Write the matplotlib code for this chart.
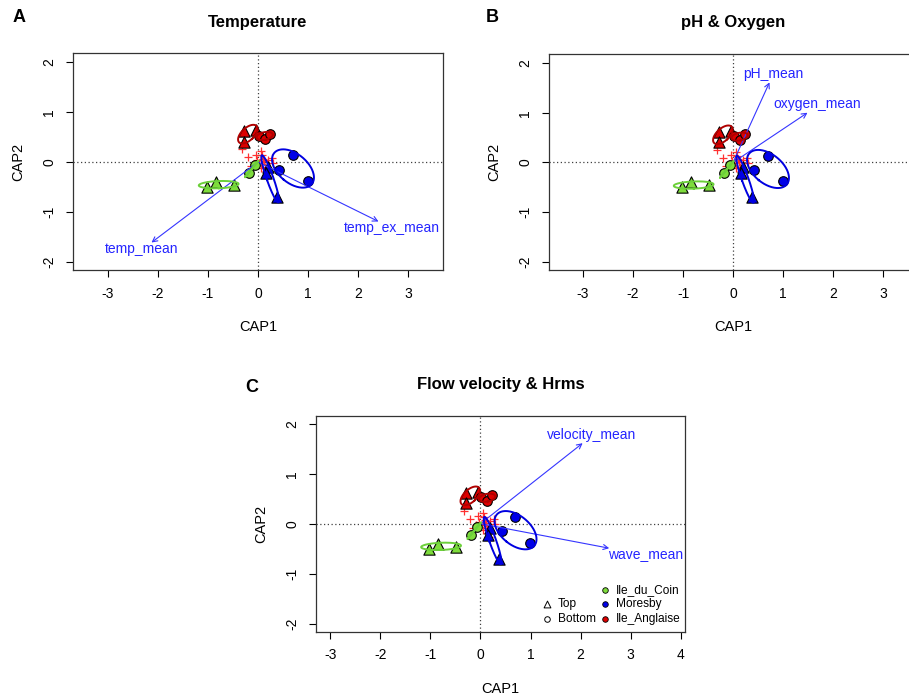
import numpy as np
import matplotlib
matplotlib.use("Agg")
import matplotlib.pyplot as plt

plt.rcParams['font.family'] = ['Liberation Sans', 'DejaVu Sans']
plt.rcParams['axes.unicode_minus'] = False

# ---------------- data ----------------
sites = ["Ile_du_Coin", "Moresby", "Ile_Anglaise"]
depths = ["Top", "Bottom"]

coin_top_x = [-1.02, -0.85, -0.49]
coin_top_y = [-0.50, -0.40, -0.46]
coin_bot_x = [-0.19, -0.06]
coin_bot_y = [-0.22, -0.06]
mor_top_x = [0.20, 0.15, 0.38]
mor_top_y = [-0.09, -0.22, -0.70]
mor_bot_x = [0.69, 0.42, 0.99]
mor_bot_y = [0.14, -0.15, -0.38]
ang_top_x = [-0.28, -0.05, -0.28]
ang_top_y = [0.62, 0.64, 0.41]
ang_bot_x = [0.02, 0.14, 0.24]
ang_bot_y = [0.53, 0.46, 0.57]

species_x = [-0.33, -0.21, -0.05, 0.05, 0.08, -0.03, 0.09, 0.28, 0.13, 0.29,
             0.17, -0.15, 0.02, 0.12, 0.20, 0.05, -0.08, 0.15]
species_y = [0.26, 0.10, 0.15, 0.22, 0.14, 0.04, 0.07, 0.09, -0.09, -0.01,
             -0.27, -0.08, -0.02, 0.02, 0.05, -0.12, -0.03, -0.18]

panel_titles = ["Temperature", "pH & Oxygen", "Flow velocity & Hrms"]
panel_letters = ["A", "B", "C"]

arrow_names = [["temp_mean", "temp_ex_mean"],
               ["pH_mean", "oxygen_mean"],
               ["velocity_mean", "wave_mean"]]
arrow_x = [[-2.13, 2.41], [0.73, 1.49], [2.04, 2.57]]
arrow_y = [[-1.61, -1.19], [1.61, 1.00], [1.61, -0.49]]
label_x = [[-2.33, 2.67], [0.80, 1.68], [2.21, 3.29]]
label_y = [[-1.75, -1.32], [1.78, 1.17], [1.77, -0.61]]

xlims = [(-3.7, 3.7), (-3.68, 3.7), (-3.29, 4.09)]
ylims = [(-2.16, 2.18), (-2.16, 2.18), (-2.16, 2.16)]
xticks = [[-3, -2, -1, 0, 1, 2, 3], [-3, -2, -1, 0, 1, 2, 3],
          [-3, -2, -1, 0, 1, 2, 3, 4]]
yticks = [-2, -1, 0, 1, 2]

# ---------------- styles ----------------
fill_col = {"Ile_du_Coin": "#7EDC3C", "Moresby": "#0000E8", "Ile_Anglaise": "#DD0000"}
ell_col = {"Ile_du_Coin": "#6CD03A", "Moresby": "#0000E0", "Ile_Anglaise": "#B00000"}
marker = {"Top": "^", "Bottom": "o"}
msize = {"Top": 66, "Bottom": 48}

groups = [
    ("Ile_du_Coin", "Top", coin_top_x, coin_top_y),
    ("Ile_du_Coin", "Bottom", coin_bot_x, coin_bot_y),
    ("Moresby", "Top", mor_top_x, mor_top_y),
    ("Moresby", "Bottom", mor_bot_x, mor_bot_y),
    ("Ile_Anglaise", "Top", ang_top_x, ang_top_y),
    ("Ile_Anglaise", "Bottom", ang_bot_x, ang_bot_y),
]

K = 1.47


def ellipse_xy(x, y, k=K, n=200):
    pts = np.column_stack([x, y])
    c = pts.mean(axis=0)
    cov = np.cov(pts.T, ddof=1)
    vals, vecs = np.linalg.eigh(cov)
    vals = np.clip(vals, 0, None)
    t = np.linspace(0, 2 * np.pi, n)
    circ = np.vstack([np.cos(t), np.sin(t)])
    e = vecs @ (np.sqrt(vals)[:, None] * circ) * k
    return c[0] + e[0], c[1] + e[1]


W, H = 909, 695
fig = plt.figure(figsize=(W / 100, H / 100), dpi=100)

# axes boxes in pixels: left, right, top, bottom
boxes = [(73, 443, 53, 270), (549, 918, 54, 270), (315.7, 685.3, 415.7, 631.7)]

for i in range(3):
    l, r, t, b = boxes[i]
    ax = fig.add_axes([l / W, (H - b) / H, (r - l) / W, (b - t) / H])
    ax.set_xlim(*xlims[i])
    ax.set_ylim(*ylims[i])
    ax.set_xticks(xticks[i])
    ax.set_yticks(yticks)
    ax.tick_params(direction='out', length=5, width=0.8, labelsize=10, pad=7)
    for lab in ax.get_yticklabels():
        lab.set_rotation(90)
        lab.set_va('center')
    for s in ax.spines.values():
        s.set_linewidth(0.9)
        s.set_color('#333333')
    ax.set_xlabel("CAP1", fontsize=10.5, labelpad=14)
    ax.set_ylabel("CAP2", fontsize=10.5, labelpad=12)

    ax.axhline(0, color='0.25', linestyle=(0, (1, 2)), lw=0.9, zorder=1)
    ax.axvline(0, color='0.25', linestyle=(0, (1, 2)), lw=0.9, zorder=1)

    # species scores
    ax.scatter(species_x, species_y, marker='+', s=28, color='#FF3030',
               linewidths=0.9, zorder=2)

    # sites
    for site, depth, gx, gy in groups:
        ax.scatter(gx, gy, marker=marker[depth], s=msize[depth],
                   facecolor=fill_col[site], edgecolor='black',
                   linewidths=0.8, zorder=3)

    # biplot arrows
    for j in range(2):
        ax.annotate("", xy=(arrow_x[i][j], arrow_y[i][j]), xytext=(0, 0),
                    arrowprops=dict(arrowstyle='->,head_length=0.35,head_width=0.18',
                                    color='#3535FF', lw=0.8,
                                    shrinkA=0, shrinkB=0), zorder=4)
        ax.text(label_x[i][j], label_y[i][j], arrow_names[i][j], color='#2424FF',
                fontsize=10, ha='center', va='center', zorder=5)

    # ellipses
    for site, depth, gx, gy in groups:
        ex, ey = ellipse_xy(gx, gy)
        ax.plot(ex, ey, color=ell_col[site], lw=1.4, zorder=4.5)

    # title
    cx = (l + r) / 2
    fig.text(cx / W, 1 - (t - 31) / H, panel_titles[i], fontsize=12,
             fontweight='bold', ha='center', va='center')

    if i == 2:
        # legends
        shape_y = [0.127, 0.060]
        for d, yy in zip(depths, shape_y):
            ax.scatter([0.627], [yy], transform=ax.transAxes, marker=marker[d],
                       s=24 if d == "Top" else 16, facecolor='white',
                       edgecolor='black', linewidths=0.7, zorder=6, clip_on=False)
            ax.text(0.656, yy, d, transform=ax.transAxes, fontsize=8.6,
                    ha='left', va='center')
        col_y = [0.193, 0.127, 0.060]
        for s_, yy in zip(sites, col_y):
            ax.scatter([0.783], [yy], transform=ax.transAxes, marker='o', s=16,
                       facecolor=fill_col[s_], edgecolor='black', linewidths=0.6,
                       zorder=6, clip_on=False)
            ax.text(0.8125, yy, s_, transform=ax.transAxes, fontsize=8.6,
                    ha='left', va='center')

letter_pos = [(19, 17), (492, 17), (252, 387)]
for (px, py), L in zip(letter_pos, panel_letters):
    fig.text(px / W, 1 - py / H, L, fontsize=13, fontweight='bold',
             ha='center', va='center')

fig.savefig("out.png", dpi=100)
